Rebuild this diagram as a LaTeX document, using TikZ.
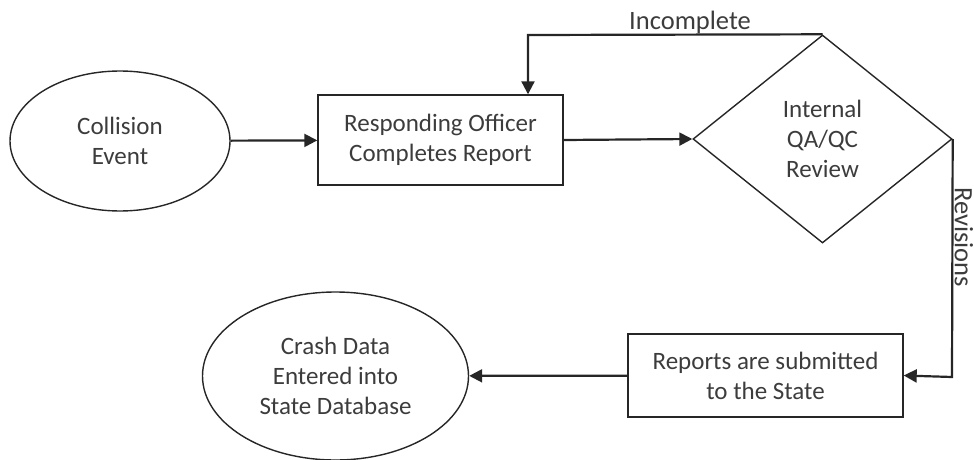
\documentclass[tikz,border=0pt]{standalone}
\usepackage{fontspec}
\setmainfont{Carlito}
\usetikzlibrary{shapes.geometric,arrows.meta}
\definecolor{txt}{HTML}{3C3C3C}
\begin{document}
\begin{tikzpicture}[x=1pt,y=-1pt,
  every node/.style={text=txt,font=\fontsize{25}{30}\selectfont,align=center,inner sep=0pt},
  shapeline/.style={draw=black!85,line width=1.4pt},
  oval/.style={shapeline,ellipse},
  procbox/.style={shapeline,rectangle},
  decision/.style={shapeline,diamond},
  flow/.style={draw=black!85,line width=2.2pt,-{Triangle[length=13pt,width=13pt]}},
  lbl/.style={font=\fontsize{26.5}{30}\selectfont}]
\useasboundingbox (0,0) rectangle (974,460);
\node[oval,minimum width=220pt,minimum height=140pt] (ev) at (120,141) {Collision\\Event};
\node[procbox,minimum width=245pt,minimum height=90pt] (rep) at (440.5,140) {Responding Officer\\Completes Report};
\node[decision,minimum width=259pt,minimum height=208pt] (qa) at (822.5,139) {Internal\\QA/QC\\Review};
\node[procbox,minimum width=275pt,minimum height=83pt] (sub) at (765.5,375.5) {Reports are submitted\\to the State};
\node[oval,minimum width=266pt,minimum height=168pt] (db) at (335.5,376) {Crash Data\\Entered into\\State Database};
\coordinate (loop) at (528,35);
\coordinate (rev) at (952,377);
\draw[flow] (ev) -- (rep);
\draw[flow] (rep.east) -- (qa.west);
\draw[flow] (qa.north) -- (loop) -- (loop |- rep.north);
\draw[flow] (qa.east) -- (rev) -- (sub.east);
\draw[flow] (sub) -- (db);
\node[lbl] (inc) at (690,22) {Incomplete};
\node[lbl,rotate=-90] (revl) at (964,237) {Revisions};
\end{tikzpicture}
\end{document}
